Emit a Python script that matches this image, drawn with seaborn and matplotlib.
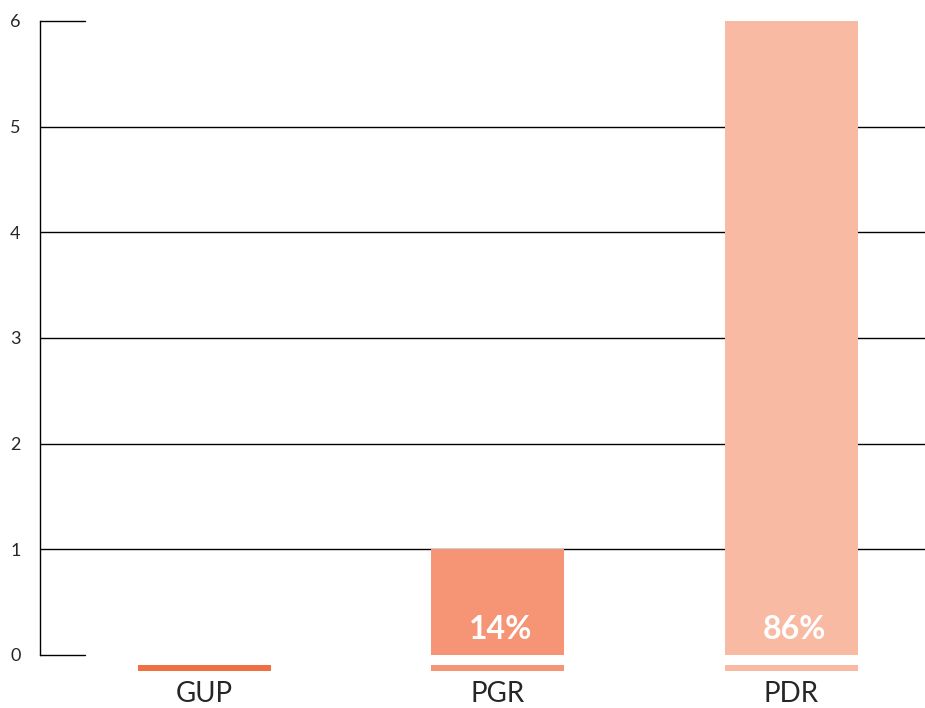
import matplotlib
matplotlib.use("Agg")
import matplotlib.pyplot as plt
import seaborn as sns
import pandas as pd

categories = ["GUP", "PGR", "PDR"]
values = [0, 1, 6]
share_labels = ["", "14%", "86%"]
colors = ["#F07044", "#F59575", "#F9BAA3"]
y_ticks = [0, 1, 2, 3, 4, 5, 6]

sns.set_style("white")
plt.rcParams["font.family"] = ["Lato", "DejaVu Sans"]

df = pd.DataFrame({"category": categories, "value": values})

fig = plt.figure(figsize=(9.25, 7.08), dpi=100)
ax = fig.add_axes([0.0432, 0.0749, 0.9568, 0.8955])

bar_w = 0.453
sns.barplot(data=df, x="category", y="value", hue="category", palette=colors,
            width=bar_w, dodge=False, legend=False, saturation=1, ax=ax,
            linewidth=0, zorder=3)

# thin coloured strip under each bar
ax.bar(range(len(categories)), [0.057] * len(categories), bottom=-0.151,
       width=bar_w, color=colors, linewidth=0, clip_on=False, zorder=3)

# grid lines: full width for inner ticks, short stubs at 0 and top
for t in y_ticks:
    if t in (0, 6):
        ax.plot([-0.56, -0.407], [t, t], color="black", lw=1, clip_on=False, zorder=2)
    else:
        ax.axhline(t, color="black", lw=1, zorder=2)

for i, lab in enumerate(share_labels):
    if lab:
        ax.text(i + 0.01, 0.24, lab, ha="center", va="center", color="white",
                fontsize=23, fontweight="bold", zorder=4)

ax.set_xlim(-0.56, 2.455)
ax.set_ylim(0, 6)
ax.set_yticks(y_ticks)
ax.set_yticklabels([str(t) for t in y_ticks], fontsize=13)
ax.tick_params(axis="y", length=0, pad=14)
ax.tick_params(axis="x", length=0, pad=19, labelsize=20)
ax.set_xlabel("")
ax.set_ylabel("")
for s in ["top", "right", "bottom"]:
    ax.spines[s].set_visible(False)
ax.spines["left"].set_color("black")
ax.spines["left"].set_linewidth(1)

fig.savefig("out.png", dpi=100)
